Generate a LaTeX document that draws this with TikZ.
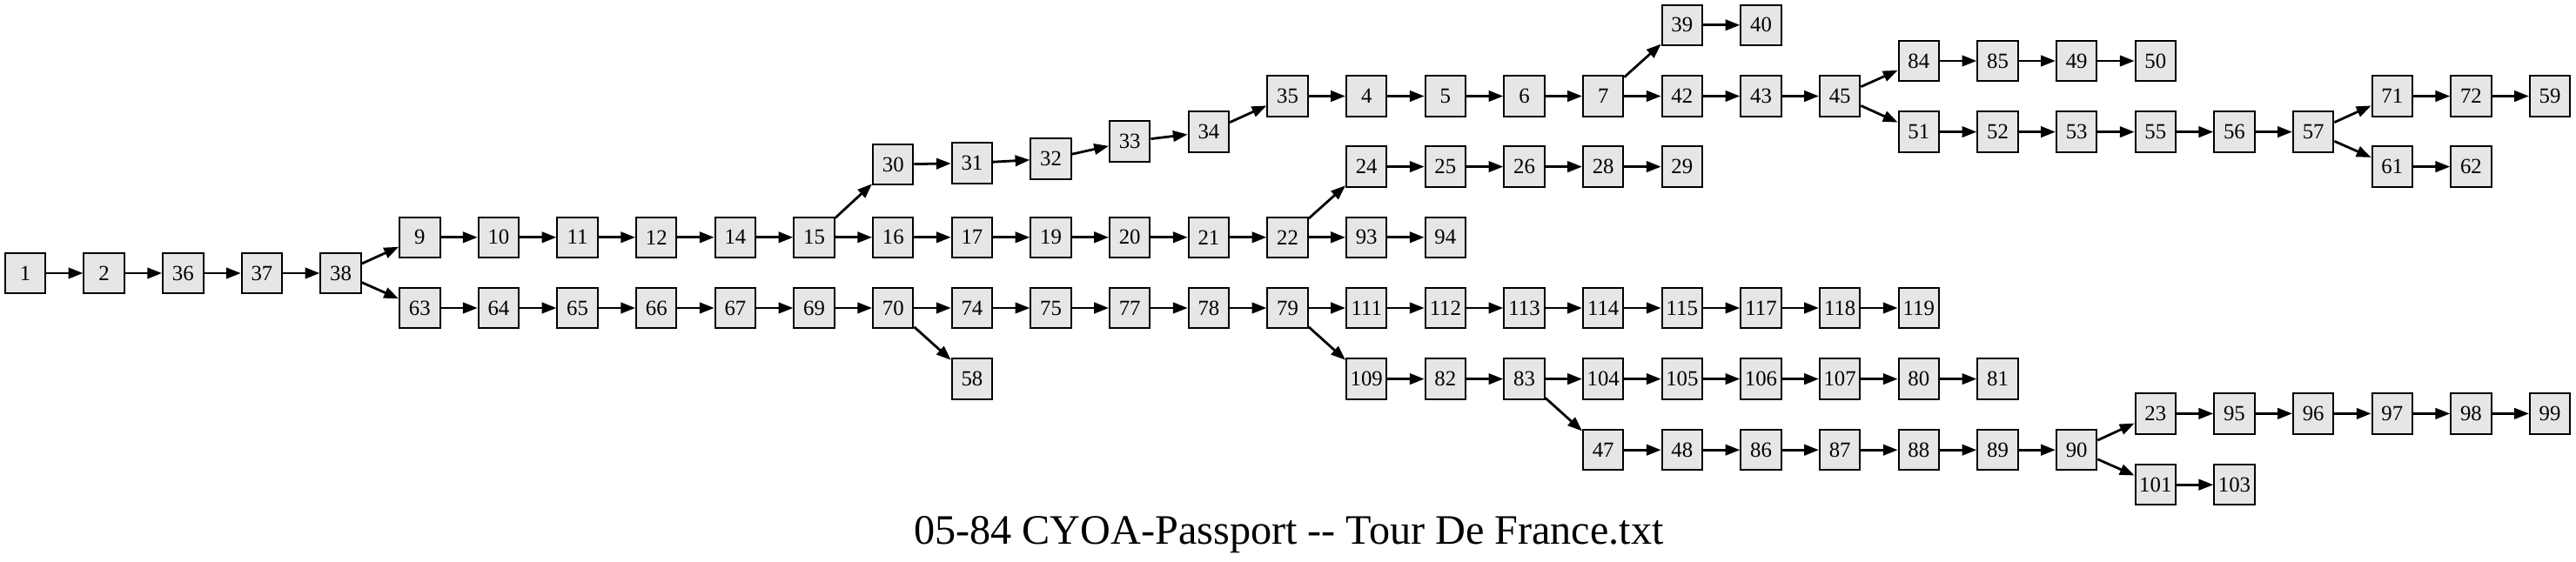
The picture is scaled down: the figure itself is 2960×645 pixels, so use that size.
\documentclass[tikz,border=0pt]{standalone}
\usepackage{fontspec}
\setmainfont{Liberation Serif}
\usepackage{tikz}
\usetikzlibrary{arrows.meta}
\definecolor{boxgray}{RGB}{230,230,230}
\tikzstyle{page} = [draw, fill=boxgray, line width=0.5pt, minimum width=11.6pt, minimum height=11.6pt, inner sep=0pt, font=\fontsize{6.2}{7}\selectfont]
\tikzstyle{link} = [line width=0.7pt, -{Triangle[length=4.2pt,width=3.1pt]}]

\begin{document}
\begin{tikzpicture}[x=0.25pt, y=-0.25pt]
  \useasboundingbox (0,0) rectangle (2960,645);
  % pages: label / column / y
  \foreach \n/\c/\y in {
      1/0/314, 2/1/314, 36/2/314, 37/3/314, 38/4/314,
      9/5/272.8, 10/6/272.8, 11/7/272.8, 12/8/272.8, 14/9/272.8, 15/10/272.8,
      16/11/272.8, 17/12/272.8, 19/13/272.8, 20/14/272.8, 21/15/272.8, 22/16/272.8,
      93/17/272.8, 94/18/272.8,
      30/11/189, 31/12/187.5, 32/13/182.5, 33/14/162.5, 34/15/151.6,
      35/16/110.5, 4/17/110.5, 5/18/110.5, 6/19/110.5, 7/20/110.5,
      39/21/28.8, 40/22/28.8,
      42/21/110.5, 43/22/110.5, 45/23/110.5,
      84/24/70, 85/25/70, 49/26/70, 50/27/70,
      51/24/151.6, 52/25/151.6, 53/26/151.6, 55/27/151.6, 56/28/151.6, 57/29/151.6,
      71/30/110.5, 72/31/110.5, 59/32/110.5,
      61/30/191.6, 62/31/191.6,
      24/17/191.6, 25/18/191.6, 26/19/191.6, 28/20/191.6, 29/21/191.6,
      63/5/354, 64/6/354, 65/7/354, 66/8/354, 67/9/354, 69/10/354, 70/11/354,
      74/12/354, 75/13/354, 77/14/354, 78/15/354, 79/16/354,
      111/17/354, 112/18/354, 113/19/354, 114/20/354, 115/21/354, 117/22/354,
      118/23/354, 119/24/354,
      58/12/435.6,
      109/17/435.6, 82/18/435.6, 83/19/435.6, 104/20/435.6, 105/21/435.6,
      106/22/435.6, 107/23/435.6, 80/24/435.6, 81/25/435.6,
      47/20/517.2, 48/21/517.2, 86/22/517.2, 87/23/517.2, 88/24/517.2,
      89/25/517.2, 90/26/517.2,
      23/27/475.4, 95/28/475.4, 96/29/475.4, 97/30/475.4, 98/31/475.4, 99/32/475.4,
      101/27/557.2, 103/28/557.2}
    \node[page] (p\n) at ({29+90.66*\c},\y) {\n};
  % links between pages
  \foreach \a/\b in {
      1/2, 2/36, 36/37, 37/38, 38/9, 38/63,
      9/10, 10/11, 11/12, 12/14, 14/15, 15/30, 15/16,
      30/31, 31/32, 32/33, 33/34, 34/35, 35/4, 4/5, 5/6, 6/7, 7/39, 7/42,
      39/40, 42/43, 43/45, 45/84, 45/51, 84/85, 85/49, 49/50,
      51/52, 52/53, 53/55, 55/56, 56/57, 57/71, 57/61, 71/72, 72/59, 61/62,
      16/17, 17/19, 19/20, 20/21, 21/22, 22/24, 22/93,
      24/25, 25/26, 26/28, 28/29, 93/94,
      63/64, 64/65, 65/66, 66/67, 67/69, 69/70, 70/74, 70/58,
      74/75, 75/77, 77/78, 78/79, 79/111, 79/109,
      111/112, 112/113, 113/114, 114/115, 115/117, 117/118, 118/119,
      109/82, 82/83, 83/104, 83/47, 104/105, 105/106, 106/107, 107/80, 80/81,
      47/48, 48/86, 86/87, 87/88, 88/89, 89/90, 90/23, 90/101,
      23/95, 95/96, 96/97, 97/98, 98/99, 101/103}
    \draw[link] (p\a) -- (p\b);
  \node[anchor=base, font=\fontsize{12.05}{14}\selectfont] (title) at (1481,625) {05-84 CYOA-Passport -{}- Tour De France.txt};
\end{tikzpicture}
\end{document}
